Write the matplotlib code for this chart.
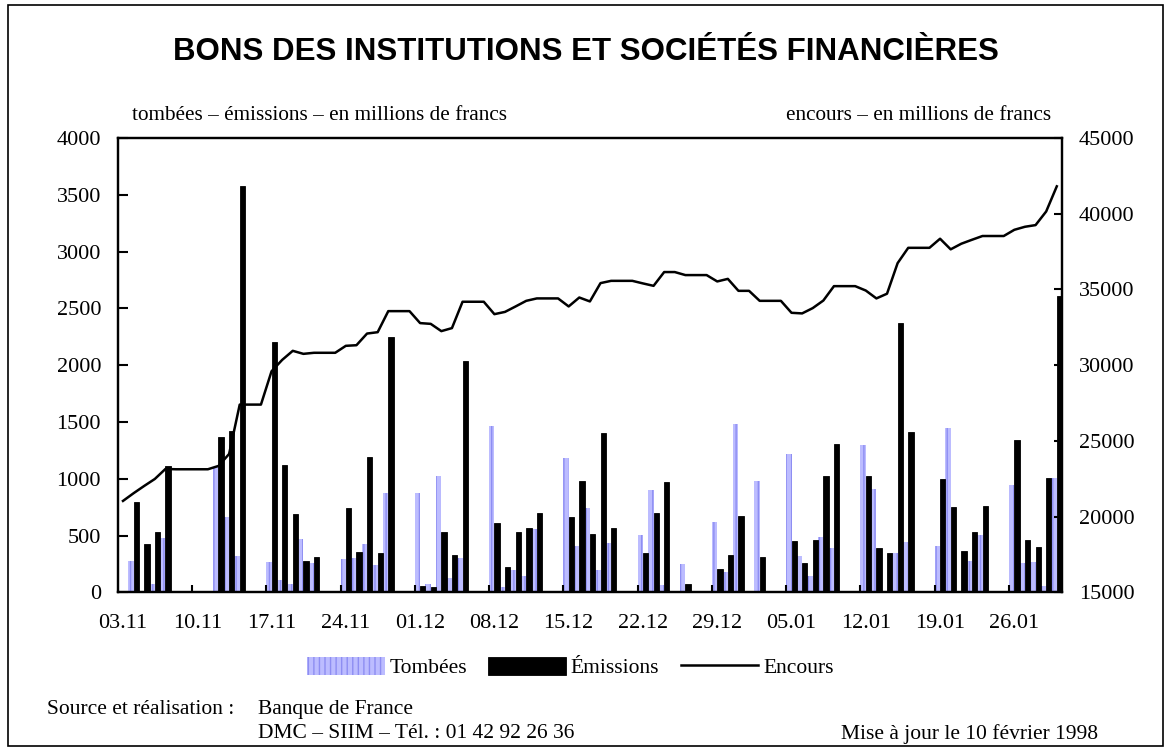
import numpy as np
import matplotlib
matplotlib.use("Agg")
import matplotlib.pyplot as plt
from matplotlib.patches import Rectangle

# Daily series from 03.11.1997 to 30.01.1998 (calendar days, weekends = 0)
tick_labels = ["03.11", "10.11", "17.11", "24.11", "01.12", "08.12", "15.12",
               "22.12", "29.12", "05.01", "12.01", "19.01", "26.01"]

tombees = [0, 275, 0, 75, 480, 0, 0,
           0, 0, 1100, 665, 320, 0, 0,
           270, 110, 75, 470, 260, 0, 0,
           295, 305, 425, 240, 875, 0, 0,
           875, 75, 1025, 125, 300, 0, 0,
           1465, 45, 195, 145, 560, 0, 0,
           1185, 410, 745, 195, 435, 0, 0,
           505, 905, 65, 0, 250, 0, 0,
           620, 180, 1485, 0, 980, 0, 0,
           1220, 320, 145, 490, 390, 0, 0,
           1300, 910, 0, 350, 440, 0, 0,
           410, 1450, 0, 275, 505, 0, 0,
           945, 260, 265, 55, 1010]

emissions = [0, 800, 425, 530, 1115, 0, 0,
             0, 0, 1370, 1420, 3575, 0, 0,
             2200, 1125, 690, 275, 310, 0, 0,
             745, 355, 1195, 345, 2250, 0, 0,
             55, 50, 530, 330, 2035, 0, 0,
             610, 225, 530, 565, 700, 0, 0,
             665, 980, 515, 1405, 570, 0, 0,
             345, 700, 975, 0, 75, 0, 0,
             205, 330, 675, 0, 310, 0, 0,
             455, 260, 460, 1025, 1310, 0, 0,
             1025, 390, 350, 2370, 1415, 0, 0,
             1000, 755, 365, 530, 760, 0, 0,
             1345, 460, 400, 1010, 2605]

encours = [21040, 21550, 22030, 22490, 23150, 23130, 23130,
           23130, 23130, 23350, 24140, 27400, 27400, 27400,
           29600, 30350, 30950, 30750, 30820, 30820, 30820,
           31280, 31320, 32090, 32180, 33570, 33570, 33570,
           32780, 32730, 32250, 32450, 34190, 34190, 34190,
           33370, 33520, 33880, 34250, 34410, 34410, 34410,
           33880, 34470, 34210, 35420, 35570, 35570, 35570,
           35400, 35240, 36150, 36150, 35950, 35950, 35950,
           35530, 35700, 34910, 34910, 34250, 34250, 34250,
           33460, 33420, 33770, 34270, 35220, 35220, 35220,
           34930, 34410, 34720, 36740, 37750, 37750, 37750,
           38350, 37650, 38020, 38280, 38530, 38530, 38530,
           38940, 39140, 39250, 40150, 41810]

serif = ["Liberation Serif", "DejaVu Serif"]
plt.rcParams['font.family'] = serif

fig = plt.figure(figsize=(11.71, 7.48), dpi=100)
ax = fig.add_axes([0.1005, 0.208, 0.8065, 0.6075])
ax2 = ax.twinx()

x = np.arange(len(tombees))
w = 0.5
b1 = ax.bar(x - w / 2, tombees, w, facecolor='#bcbcff', edgecolor='#8e8ef2',
            hatch='|||', linewidth=0, label='Tombées')
b2 = ax.bar(x + w / 2, emissions, w, color='black', edgecolor='black',
            linewidth=0.6, label='Émissions')
l1, = ax2.plot(x, encours, color='black', lw=1.8, label='Encours')

ax.set_xlim(-0.5, len(x) - 0.5)
ax.set_ylim(0, 4000)
ax.set_yticks(range(0, 4001, 500))
ax2.set_ylim(15000, 45000)
ax2.set_yticks(range(15000, 45001, 5000))

# category labels every 7 days, tick marks between weeks
ax.set_xticks(np.arange(0, len(x), 7), tick_labels)
ax.set_xticks(np.arange(6.5, len(x), 7), minor=True)
ax.tick_params(axis='x', which='major', length=0, pad=15.5, labelsize=16)
ax.tick_params(axis='x', which='minor', direction='in', length=5, width=1.5)
ax.tick_params(axis='y', direction='in', length=7, width=1.5, labelsize=16, pad=12)
ax2.tick_params(axis='y', direction='in', length=6, width=1.5, labelsize=16, pad=12)

for a in (ax, ax2):
    for s in a.spines.values():
        s.set_linewidth(1.6)

fig.text(0.5, 0.930, "BONS DES INSTITUTIONS ET SOCIÉTÉS FINANCIÈRES",
         ha='center', va='center', fontsize=22.5, fontweight='bold',
         family=["Liberation Sans", "DejaVu Sans"])
fig.text(0.113, 0.845, "tombées – émissions – en millions de francs",
         ha='left', va='center', fontsize=15.3)
fig.text(0.898, 0.845, "encours – en millions de francs",
         ha='right', va='center', fontsize=15.3)

fig.legend([b1, b2, l1], ['Tombées', 'Émissions', 'Encours'], loc='center',
           bbox_to_anchor=(0.487, 0.107), ncol=3, frameon=False,
           prop={'family': serif, 'size': 15.5},
           handlelength=3.6, handleheight=0.85, handletextpad=0.22, columnspacing=1.0)

fig.text(0.040, 0.051, "Source et réalisation :", ha='left', va='center', fontsize=15.5)
fig.text(0.220, 0.051, "Banque de France", ha='left', va='center', fontsize=15.5)
fig.text(0.220, 0.019, "DMC – SIIM – Tél. : 01 42 92 26 36", ha='left', va='center', fontsize=15.5)
fig.text(0.938, 0.019, "Mise à jour le 10 février 1998", ha='right', va='center', fontsize=15.5)

# outer frame
fig.patches.append(Rectangle((0.007, 0.003), 0.986, 0.99, transform=fig.transFigure,
                             fill=False, edgecolor='black', linewidth=1.2))

fig.savefig("out.png", dpi=100)
